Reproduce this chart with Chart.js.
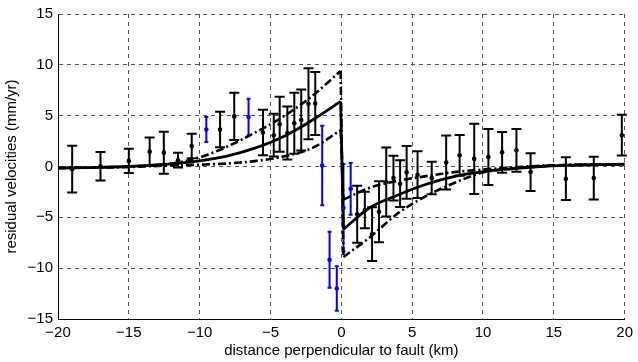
<!DOCTYPE html>
<html>
<head>
<meta charset="utf-8">
<script src="https://cdn.jsdelivr.net/npm/chart.js@4/dist/chart.umd.min.js"></script>
<style>
html,body{margin:0;padding:0;background:#fff;}
#wrap{width:638px;height:362px;}
</style>
</head>
<body>
<div id="wrap"><canvas id="c" width="638" height="362"></canvas></div>
<script>
// ---- data ----
const xTicks = [-20, -15, -10, -5, 0, 5, 10, 15, 20];
const yTicks = [-15, -10, -5, 0, 5, 10, 15];

const blackX = [-19.0, -17.0, -15.0, -13.53, -12.53, -11.53, -10.56, -8.56, -7.56, -5.53, -4.77, -4.35, -3.81, -3.32, -2.83, -2.32, -1.84,
  1.12, 1.66, 2.17, 2.66, 3.17, 3.68, 4.15, 4.61, 5.38, 6.38, 7.4, 8.35, 9.38, 10.38, 11.35, 12.36, 13.36, 15.85, 17.82, 19.8];
const blackY = [-0.26, 0.03, 0.55, 1.46, 1.36, 0.62, 2.01, 3.64, 4.93, 3.34, 3.08, 4.15, 3.3, 4.25, 4.57, 6.17, 6.2,
  -4.7, -4.28, -6.65, -4.45, -1.53, -1.14, -1.69, -0.58, -0.81, -1.14, 0.39, 1.1, 0.75, 0.94, 1.39, 1.59, -0.55, -1.2, -1.14, 3.08];
const blackErr = [2.3, 1.4, 1.2, 1.4, 2.07, 0.73, 1.2, 1.75, 2.33, 2.24, 2.1, 2.7, 2.6, 3.0, 3.0, 3.5, 3.1,
  2.8, 1.8, 2.65, 3.0, 3.4, 2.2, 2.3, 2.6, 2.3, 1.6, 2.65, 2.0, 3.45, 2.75, 2.0, 2.1, 1.85, 2.1, 2.1, 2.0];

const blueX = [-9.53, -6.55, -1.35, -0.83, -0.32, 0.15, 0.66];
const blueY = [3.64, 4.87, 0.1, -9.18, -12.0, -4.06, -2.2];
const blueErr = [1.23, 1.8, 3.9, 2.75, 2.2, 4.3, 2.55];

// model curves, west side (x<0) and east side (x>0)
const westX = [-20, -17, -15, -12, -10, -8, -6, -4, -2, -0.05];
const bestWestY = [-0.15, -0.08, 0.0, 0.25, 0.55, 1.05, 1.85, 3.0, 4.6, 6.4];
const highWestY = [-0.15, -0.08, 0.0, 0.3, 0.9, 2.0, 3.4, 5.0, 7.0, 9.4];
const lowWestY  = [-0.15, -0.1, -0.05, 0.1, 0.18, 0.3, 0.55, 1.0, 1.85, 3.57];

const eastX = [0.15, 2, 4, 6, 8, 10, 12, 14, 16, 18, 20];
const bestEastY = [-6.17, -4.06, -2.8, -1.75, -0.98, -0.5, -0.22, 0.0, 0.12, 0.18, 0.22];
const highEastY = [-8.9, -6.98, -4.6, -2.9, -1.6, -0.6, -0.2, 0.05, 0.15, 0.2, 0.22];
const lowEastY  = [-3.25, -2.1, -1.4, -0.95, -0.55, -0.3, -0.1, 0.05, 0.15, 0.2, 0.22];

// ---- helpers ----
const pts = (xs, ys) => xs.map((x, i) => ({x: x, y: ys[i]}));
const jump = (wy, ey) => [{x: westX[westX.length - 1], y: wy[wy.length - 1]}, {x: eastX[0], y: ey[0]}];

const DASHDOT = [8, 3, 2, 3];
function lineDS(data, dash, width, mono) {
  return {
    type: 'line', data: data, borderColor: '#000', backgroundColor: '#000',
    borderWidth: width, borderDash: dash, pointRadius: 0, fill: false,
    cubicInterpolationMode: mono ? 'monotone' : 'default', tension: 0, order: 1
  };
}

const errorBars = {
  id: 'errorBars',
  beforeDatasetsDraw(chart) {
    const ctx = chart.ctx, xs = chart.scales.x, ys = chart.scales.y;
    chart.data.datasets.forEach(ds => {
      if (!ds.errors) return;
      ctx.save();
      ctx.strokeStyle = ds.borderColor;
      ctx.lineWidth = ds.errWidth;
      ds.data.forEach((p, i) => {
        const px = xs.getPixelForValue(p.x);
        const top = ys.getPixelForValue(p.y + ds.errors[i]);
        const bot = ys.getPixelForValue(p.y - ds.errors[i]);
        const c = ds.capHalf;
        ctx.beginPath();
        ctx.moveTo(px, top); ctx.lineTo(px, bot);
        ctx.moveTo(px - c, top); ctx.lineTo(px + c, top);
        ctx.moveTo(px - c, bot); ctx.lineTo(px + c, bot);
        ctx.stroke();
      });
      ctx.restore();
    });
  }
};

const FONT = {family: '"Liberation Sans", Arial, Helvetica, sans-serif', size: 15};
const minus = v => (v < 0 ? '\u2212' + Math.abs(v) : String(v));

new Chart(document.getElementById('c'), {
  type: 'scatter',
  data: {
    datasets: [
      {type: 'scatter', data: pts(blackX, blackY), errors: blackErr, errWidth: 2, capHalf: 5,
       borderColor: '#000', backgroundColor: '#000', pointRadius: 2.3, pointBorderWidth: 0, order: 0},
      {type: 'scatter', data: pts(blueX, blueY), errors: blueErr, errWidth: 2, capHalf: 2,
       borderColor: '#0000ff', backgroundColor: '#0000ff', pointRadius: 2.3, pointBorderWidth: 0, order: 0},
      lineDS(pts(westX, bestWestY), [], 2.8, true),
      lineDS(pts(eastX, bestEastY), [], 2.8, true),
      lineDS(jump(bestWestY, bestEastY), [], 2.8, false),
      lineDS(pts(westX, highWestY), DASHDOT, 2.6, true),
      lineDS(pts(eastX, highEastY), DASHDOT, 2.6, true),
      lineDS(jump(highWestY, highEastY), DASHDOT, 2.6, false),
      lineDS(pts(westX, lowWestY), DASHDOT, 2.6, true),
      lineDS(pts(eastX, lowEastY), DASHDOT, 2.6, true),
      lineDS(jump(lowWestY, lowEastY), DASHDOT, 2.6, false)
    ]
  },
  options: {
    responsive: false,
    animation: false,
    events: [],
    layout: {padding: {left: 0, right: 7, top: 11, bottom: 0}},
    plugins: {legend: {display: false}, tooltip: {enabled: false}},
    scales: {
      x: {
        type: 'linear', min: -20, max: 20,
        afterBuildTicks: s => { s.ticks = xTicks.map(v => ({value: v})); },
        afterFit: s => { s.height = 43; },
        ticks: {color: '#000', font: FONT, padding: 5, maxRotation: 0, callback: minus},
        grid: {color: '#555', lineWidth: 1, drawTicks: false, tickLength: 0},
        border: {display: true, color: '#000', width: 1, dash: [4, 4]},
        title: {display: true, text: 'distance perpendicular to fault (km)', color: '#000', font: FONT,
                padding: {top: 0, bottom: 2}}
      },
      y: {
        type: 'linear', min: -15, max: 15,
        afterBuildTicks: s => { s.ticks = yTicks.map(v => ({value: v})); },
        afterFit: s => { s.width = 58; },
        ticks: {color: '#000', font: FONT, padding: 5, callback: minus},
        grid: {color: '#555', lineWidth: 1, drawTicks: false, tickLength: 0},
        border: {display: true, color: '#000', width: 1, dash: [4, 4]},
        title: {display: true, text: 'residual velocities (mm/yr)', color: '#000', font: FONT,
                padding: {top: 3, bottom: 0}}
      }
    }
  },
  plugins: [errorBars]
});
</script>
</body>
</html>
